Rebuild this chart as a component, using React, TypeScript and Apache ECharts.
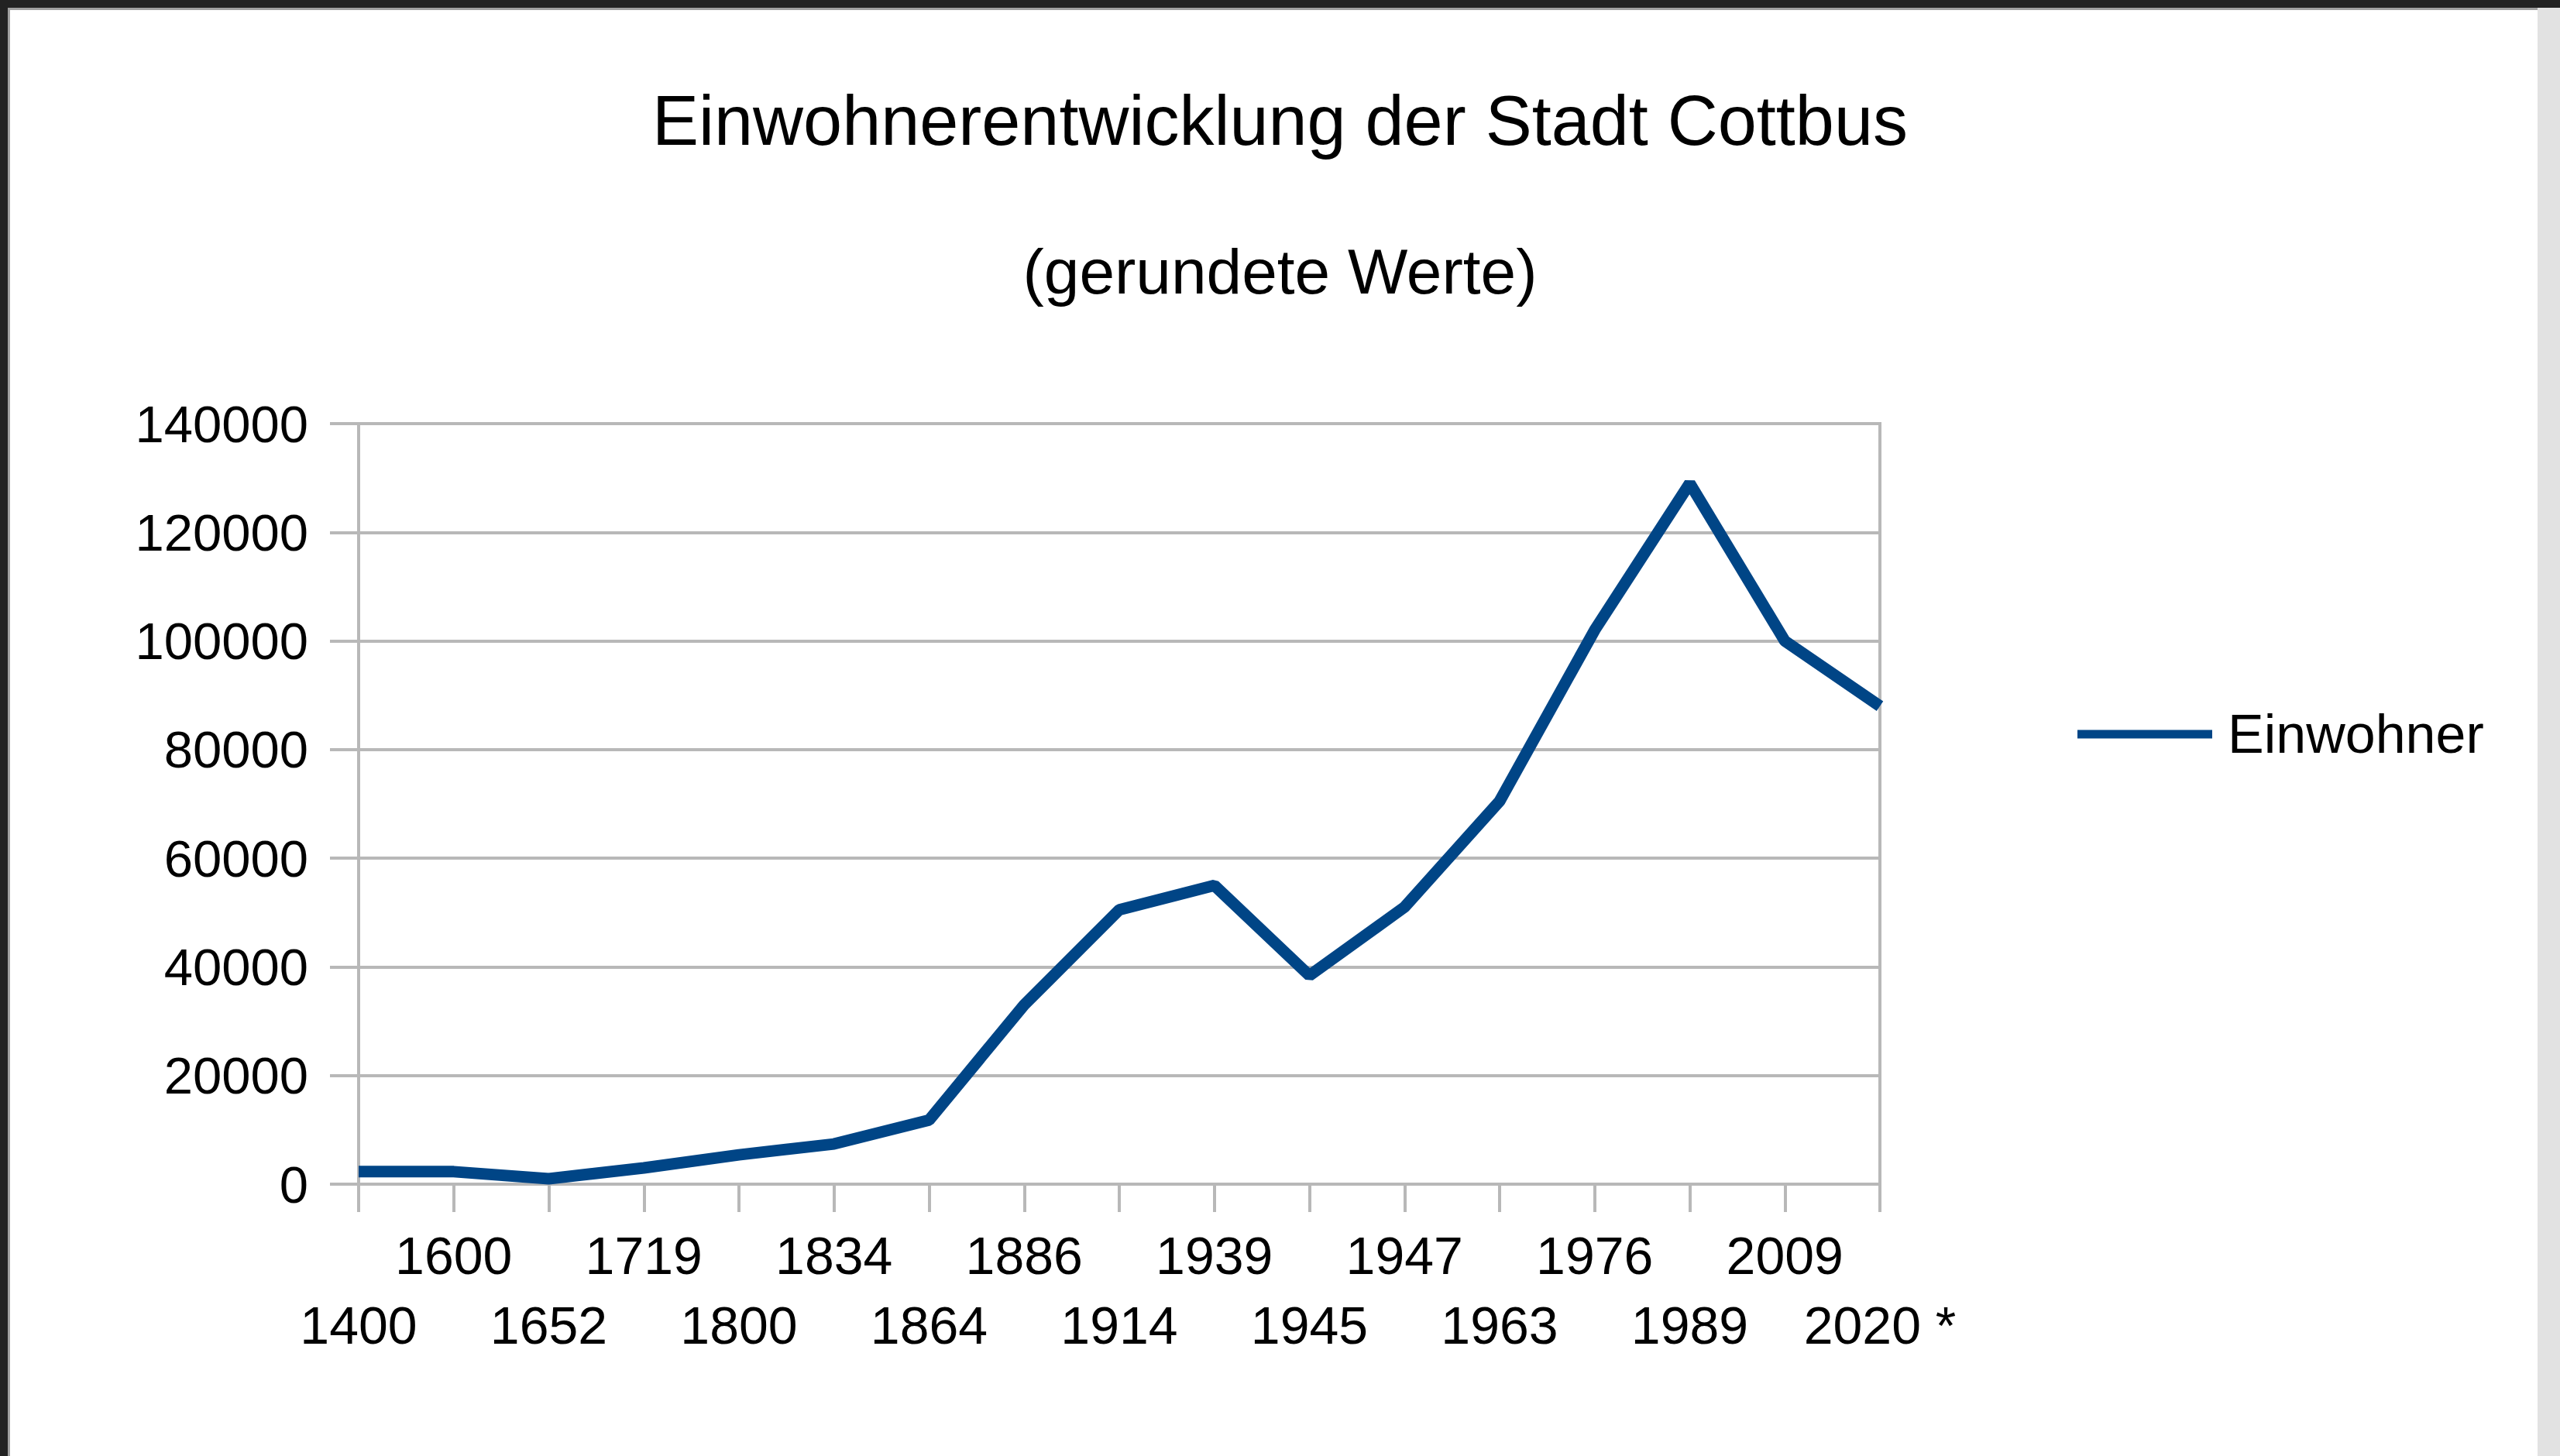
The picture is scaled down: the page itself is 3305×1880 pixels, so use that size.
import React, { useEffect, useRef } from 'react';
import * as echarts from 'echarts';

const categories = ['1400', '1600', '1652', '1719', '1800', '1834', '1864', '1886', '1914', '1939', '1945', '1947', '1963', '1976', '1989', '2009', '2020 *'];
const population = [2300, 2300, 1000, 3000, 5400, 7400, 11800, 33000, 50500, 55000, 38400, 51000, 70500, 102000, 129000, 100000, 88000];
const seriesName = 'Einwohner';
const titleText = 'Einwohnerentwicklung der Stadt Cottbus';
const subtitleText = '(gerundete Werte)';
const yMin = 0;
const yMax = 140000;
const yStep = 20000;

const FONT = '"Liberation Sans", Arial, sans-serif';
const GRID = '#b8b8b8';

export default function App() {
  const ref = useRef<HTMLDivElement>(null);
  useEffect(() => {
    const chart = echarts.init(ref.current!, null, { renderer: 'svg' });
    chart.setOption({
      animation: false,
      backgroundColor: '#ffffff',
      title: [
        {
          text: titleText,
          left: 'center',
          top: 111,
          padding: 0,
          textStyle: { fontFamily: FONT, fontSize: 90, fontWeight: 'normal', color: '#000', lineHeight: 90 },
        },
        {
          text: subtitleText,
          left: 'center',
          top: 309,
          padding: 0,
          textStyle: { fontFamily: FONT, fontSize: 82, fontWeight: 'normal', color: '#000', lineHeight: 82 },
        },
      ],
      legend: {
        data: [seriesName],
        left: 2682,
        top: 913,
        padding: 0,
        icon: 'rect',
        itemWidth: 174,
        itemHeight: 11,
        textStyle: { fontFamily: FONT, fontSize: 70, color: '#000', padding: [0, 0, 0, 15] },
      },
      grid: {
        left: 463,
        right: 3305 - 2427,
        top: 547,
        bottom: 1880 - 1529,
        show: true,
        borderColor: GRID,
        borderWidth: 4,
        backgroundColor: 'transparent',
      },
      xAxis: {
        type: 'category',
        data: categories,
        boundaryGap: false,
        axisLine: { show: true, lineStyle: { color: GRID, width: 4 } },
        axisTick: { show: true, length: 36, interval: 0, lineStyle: { color: GRID, width: 4 } },
        splitLine: { show: false },
        axisLabel: {
          interval: 0,
          margin: 47,
          fontFamily: FONT,
          fontSize: 68,
          lineHeight: 90,
          color: '#000',
          formatter: (v: string, i: number) => (i % 2 === 1 ? v : '\n' + v),
        },
      },
      yAxis: {
        type: 'value',
        min: yMin,
        max: yMax,
        interval: yStep,
        axisLine: { show: true, lineStyle: { color: GRID, width: 4 } },
        axisTick: { show: true, length: 37, lineStyle: { color: GRID, width: 4 } },
        splitLine: { show: true, lineStyle: { color: GRID, width: 4 } },
        axisLabel: {
          margin: 65,
          fontFamily: FONT,
          fontSize: 67,
          color: '#000',
          formatter: (v: number) => String(v),
        },
      },
      series: [
        {
          name: seriesName,
          type: 'line',
          data: population,
          symbol: 'none',
          smooth: false,
          lineStyle: { color: '#004586', width: 15 },
          itemStyle: { color: '#004586' },
        },
      ],
      graphic: [
        { type: 'rect', silent: true, shape: { x: 3276, y: 0, width: 29, height: 1880 }, style: { fill: '#e2e2e2' } },
        { type: 'rect', silent: true, shape: { x: 0, y: 9, width: 3276, height: 4 }, style: { fill: '#a0a0a0' } },
        { type: 'rect', silent: true, shape: { x: 9, y: 0, width: 4, height: 1880 }, style: { fill: '#a0a0a0' } },
        { type: 'rect', silent: true, shape: { x: 0, y: 0, width: 3305, height: 10 }, style: { fill: '#222222' } },
        { type: 'rect', silent: true, shape: { x: 0, y: 0, width: 10, height: 1880 }, style: { fill: '#222222' } },
      ],
    });
    return () => chart.dispose();
  }, []);
  return (
    <div
      ref={ref}
      style={{ position: 'absolute', left: 0, top: 0, width: 3305, height: 1880, background: '#fff' }}
    />
  );
}
